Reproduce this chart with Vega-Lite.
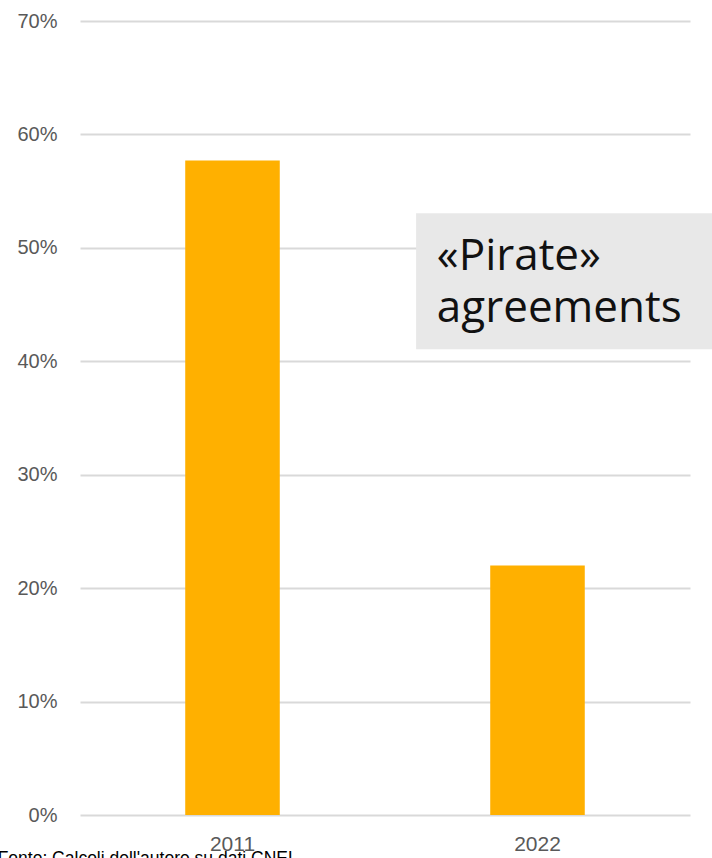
{
  "$schema": "https://vega.github.io/schema/vega-lite/v6.json",
  "width": 610,
  "height": 794,
  "autosize": {"type": "none"},
  "padding": {"left": 80, "top": 21, "right": 22, "bottom": 43},
  "background": "white",
  "config": {"view": {"stroke": null}, "font": "Liberation Sans"},
  "layer": [
    {
      "data": {"values": [{"year": "2011", "share": 0.577}, {"year": "2022", "share": 0.22}]},
      "mark": {"type": "bar", "color": "#FFB000", "width": {"band": 0.31}},
      "encoding": {
        "x": {
          "field": "year", "type": "nominal",
          "scale": {"paddingInner": 0, "paddingOuter": 0},
          "axis": {"title": null, "labelAngle": 0, "labelFontSize": 21, "labelColor": "#595959", "domain": false, "ticks": false, "labelPadding": 18, "grid": false}
        },
        "y": {
          "field": "share", "type": "quantitative",
          "scale": {"domain": [0, 0.7], "nice": false},
          "axis": {"format": ".0%", "values": [0, 0.1, 0.2, 0.3, 0.4, 0.5, 0.6, 0.7], "title": null, "domain": false, "ticks": false, "labelFontSize": 20, "labelColor": "#595959", "labelPadding": 23, "gridColor": "#d9d9d9", "gridWidth": 2}
        }
      }
    },
    {
      "data": {"values": [{"x0": 0.551, "x1": 1.04, "y0": 0.4106, "y1": 0.5304}]},
      "mark": {"type": "rect", "color": "#e8e8e8", "clip": false},
      "encoding": {
        "x": {"field": "x0", "type": "quantitative", "scale": {"domain": [0, 1]}, "axis": null},
        "x2": {"field": "x1"},
        "y": {"field": "y0", "type": "quantitative"},
        "y2": {"field": "y1"}
      }
    },
    {
      "data": {"values": [{"x": 0.585, "y": 0.4802, "label": "«Pirate»\nagreements"}]},
      "mark": {"type": "text", "align": "left", "baseline": "alphabetic", "fontSize": 44, "font": "Open Sans", "lineBreak": "\n", "lineHeight": 52, "color": "#111111", "clip": false},
      "encoding": {
        "x": {"field": "x", "type": "quantitative", "scale": {"domain": [0, 1]}, "axis": null},
        "y": {"field": "y", "type": "quantitative"},
        "text": {"field": "label"}
      }
    },
    {
      "data": {"values": [{"x": -0.135, "y": -0.0305, "label": "Fonte: Calcoli dell'autore su dati CNEL"}]},
      "mark": {"type": "text", "align": "left", "baseline": "top", "fontSize": 17.5, "color": "#000000", "clip": false},
      "encoding": {
        "x": {"field": "x", "type": "quantitative", "scale": {"domain": [0, 1]}, "axis": null},
        "y": {"field": "y", "type": "quantitative"},
        "text": {"field": "label"}
      }
    }
  ],
  "resolve": {"scale": {"x": "independent"}}
}
